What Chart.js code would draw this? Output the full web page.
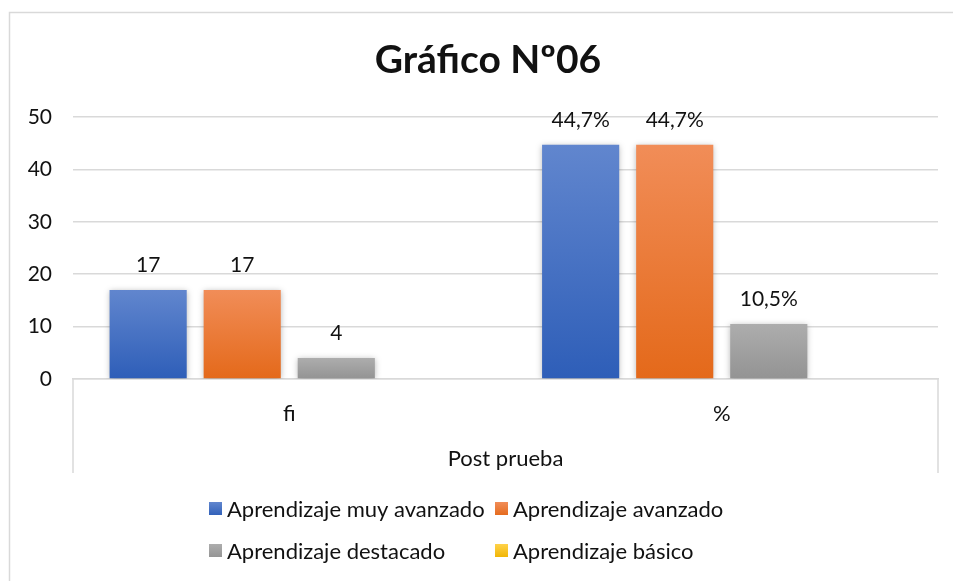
<!DOCTYPE html>
<html>
<head>
<meta charset="utf-8">
<script src="https://cdn.jsdelivr.net/npm/chart.js@4/dist/chart.umd.min.js"></script>
<style>
  html, body { margin: 0; padding: 0; background: #fff; }
  #wrap { width: 953px; height: 581px; }
</style>
</head>
<body>
<div id="wrap"><canvas id="chart" width="953" height="581"></canvas></div>
<script>
// datos
const chartTitle = 'Gráfico Nº06';
const groupTitle = 'Post prueba';
const categories = ['fi', '%'];
const seriesNames = ['Aprendizaje muy avanzado', 'Aprendizaje avanzado', 'Aprendizaje destacado', 'Aprendizaje básico'];
const muyAvanzado = [17, 44.7];
const avanzado = [17, 44.7];
const destacado = [4, 10.5];
const basico = [null, null];
const yTicks = [0, 10, 20, 30, 40, 50];

const FONT = 'Lato, "Open Sans", sans-serif';
const TEXT = '#111111';
const LINE = '#d9d9d9';

// colores degradados (claro arriba, oscuro abajo)
const palette = [
  ['#6186ce', '#2e5eb8'],
  ['#f18d58', '#e4691a'],
  ['#adadad', '#939393'],
  ['#ffd24a', '#f0b400']
];

function barFill(light, dark) {
  return (ctx) => {
    const chart = ctx.chart;
    const y = chart.scales && chart.scales.y;
    if (!y || ctx.raw == null) return dark;
    const yTop = y.getPixelForValue(ctx.raw);
    const yBot = y.getPixelForValue(0);
    if (!isFinite(yTop) || !isFinite(yBot) || yTop === yBot) return dark;
    const g = chart.ctx.createLinearGradient(0, yTop, 0, yBot);
    g.addColorStop(0, light);
    g.addColorStop(1, dark);
    return g;
  };
}

function formatLabel(catIndex, value) {
  if (categories[catIndex] === '%') return value.toFixed(1).replace('.', ',') + '%';
  return String(value);
}

// marco, ejes multinivel, título y leyenda
const decorPlugin = {
  id: 'decor',
  beforeDraw: (chart) => {
    const ctx = chart.ctx;
    const area = chart.chartArea;
    ctx.save();
    ctx.fillStyle = '#fff';
    ctx.fillRect(0, 0, chart.width, chart.height);
    ctx.strokeStyle = LINE;
    ctx.lineWidth = 1.5;
    ctx.strokeRect(9.5, 12.5, chart.width + 20, chart.height + 20);
    // líneas verticales del eje de categorías
    ctx.beginPath();
    ctx.moveTo(area.left, area.bottom);
    ctx.lineTo(area.left, area.bottom + 94);
    ctx.moveTo(area.right, area.bottom);
    ctx.lineTo(area.right, area.bottom + 94);
    ctx.stroke();
    // rótulo del grupo
    ctx.fillStyle = TEXT;
    ctx.font = '22px ' + FONT;
    ctx.textAlign = 'center';
    ctx.textBaseline = 'middle';
    ctx.fillText(groupTitle, (area.left + area.right) / 2, area.bottom + 80);
    ctx.restore();
  },
  beforeDatasetsDraw: (chart) => {
    const ctx = chart.ctx;
    ctx.save();
    ctx.shadowColor = 'rgba(0,0,0,0.28)';
    ctx.shadowBlur = 6;
    ctx.shadowOffsetX = 0;
    ctx.shadowOffsetY = 1;
  },
  afterDatasetsDraw: (chart) => {
    const ctx = chart.ctx;
    ctx.restore();
    ctx.save();
    ctx.fillStyle = TEXT;
    ctx.font = '21px ' + FONT;
    ctx.textAlign = 'center';
    ctx.textBaseline = 'middle';
    chart.data.datasets.forEach((ds, di) => {
      const meta = chart.getDatasetMeta(di);
      meta.data.forEach((el, i) => {
        const v = ds.data[i];
        if (v == null) return;
        ctx.fillText(formatLabel(i, v), el.x, el.y - 25);
      });
    });
    ctx.restore();
  },
  afterDraw: (chart) => {
    const ctx = chart.ctx;
    ctx.save();
    ctx.fillStyle = TEXT;
    ctx.textAlign = 'center';
    ctx.textBaseline = 'middle';
    ctx.font = 'bold 39px ' + FONT;
    ctx.fillText(chartTitle, 488, 60);

    // leyenda en dos columnas
    ctx.font = '22px ' + FONT;
    ctx.textAlign = 'left';
    const colX = [209, 495];
    const rowY = [509, 551];
    chart.data.datasets.forEach((ds, di) => {
      const x = colX[di % 2];
      const y = rowY[Math.floor(di / 2)];
      const g = ctx.createLinearGradient(0, y - 7, 0, y + 7);
      g.addColorStop(0, palette[di][0]);
      g.addColorStop(1, palette[di][1]);
      ctx.fillStyle = g;
      ctx.fillRect(x, y - 7, 13, 13);
      ctx.fillStyle = TEXT;
      ctx.fillText(ds.label, x + 18, y + 1);
    });
    ctx.restore();
  }
};

const seriesValues = [muyAvanzado, avanzado, destacado, basico];

new Chart(document.getElementById('chart'), {
  type: 'bar',
  data: {
    labels: categories,
    datasets: seriesNames.map((name, i) => ({
      label: name,
      data: seriesValues[i],
      backgroundColor: barFill(palette[i][0], palette[i][1]),
      borderWidth: 0,
      categoryPercentage: 0.87,
      barPercentage: 0.82
    }))
  },
  options: {
    responsive: false,
    devicePixelRatio: 1,
    animation: false,
    layout: { padding: { top: 117, right: 15, left: 0, bottom: 0 } },
    plugins: {
      legend: { display: false },
      title: { display: false },
      tooltip: { enabled: false }
    },
    scales: {
      x: {
        grid: { display: false, drawTicks: false },
        border: { color: LINE, width: 1.5 },
        ticks: { color: TEXT, padding: 22, font: { family: FONT, size: 22 } },
        afterFit: (s) => { s.height = 202; }
      },
      y: {
        min: yTicks[0],
        max: yTicks[yTicks.length - 1],
        afterBuildTicks: (s) => { s.ticks = yTicks.map(v => ({ value: v })); },
        grid: { color: LINE, lineWidth: 1.5, drawTicks: false },
        border: { display: false },
        ticks: { color: TEXT, padding: 21, font: { family: FONT, size: 21 } },
        afterFit: (s) => { s.width = 73; }
      }
    }
  },
  plugins: [decorPlugin]
});
</script>
</body>
</html>
